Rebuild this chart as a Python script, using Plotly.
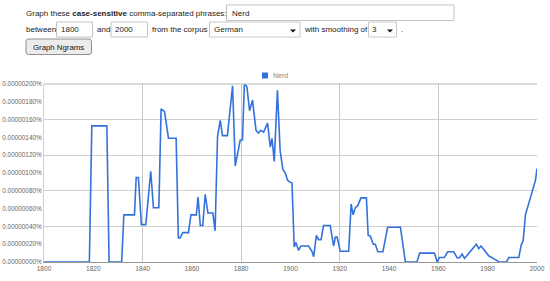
import plotly.graph_objects as go

# ---- data (frequency in units of 1e-6 percent) ----
years = [1800, 1818.4, 1819.4, 1825.5, 1826.4, 1831.5, 1832.4, 1836.7, 1837.4, 1838.3,
         1839.5, 1841.3, 1843.3, 1844.4, 1846.6, 1847.5, 1848.9, 1850.5, 1853.6, 1854.5,
         1855.2, 1856.3, 1858.6, 1859.6, 1861.8, 1862.5, 1863.4, 1864.4, 1865.4, 1866.5,
         1868.5, 1869.4, 1870.4, 1871.5, 1872.4, 1874.4, 1876.5, 1877.6, 1879.6, 1880.5,
         1881.3, 1882.3, 1883.4, 1884.6, 1886.0, 1887.0, 1888.0, 1889.1, 1890.7, 1891.8,
         1892.5, 1893.4, 1894.7, 1895.8, 1896.9, 1897.9, 1898.8, 1899.5, 1900.6, 1901.5,
         1902.2, 1903.3, 1904.2, 1907.3, 1908.7, 1909.4, 1910.5, 1911.4, 1912.4, 1913.4,
         1916.1, 1917.5, 1918.2, 1918.9, 1920.2, 1923.6, 1924.6, 1925.4, 1926.3, 1927.2,
         1928.6, 1930.8, 1931.5, 1932.4, 1933.6, 1934.4, 1935.4, 1937.5, 1939.4, 1944.6,
         1946.6, 1951.3, 1952.4, 1958.4, 1959.5, 1960.4, 1962.4, 1963.8, 1966.2, 1967.6,
         1968.6, 1969.6, 1970.6, 1974.3, 1975.4, 1976.4, 1977.3, 1980.4, 1981.8, 1983.8,
         1984.5, 1987.6, 1988.6, 1992.6, 1993.6, 1994.4, 1995.3, 1996.7, 1998.0, 1999.4,
         2000]
nerd = [0, 0, 1.53, 1.53, 0, 0, 0.53, 0.53, 0.95, 0.95,
        0.42, 0.42, 1.02, 0.61, 0.61, 1.72, 1.69, 1.39, 1.39, 0.27,
        0.27, 0.33, 0.33, 0.53, 0.53, 0.73, 0.41, 0.41, 0.76, 0.55,
        0.55, 0.35, 1.41, 1.59, 1.42, 1.42, 1.98, 1.08, 1.37, 1.37,
        2.0, 1.97, 1.70, 1.82, 1.48, 1.45, 1.48, 1.46, 1.56, 1.29,
        1.39, 1.13, 1.93, 1.25, 1.04, 1.00, 0.92, 0.90, 0.89, 0.17,
        0.22, 0.13, 0.18, 0.18, 0.12, 0.06, 0.30, 0.25, 0.25, 0.41,
        0.41, 0.18, 0.28, 0.28, 0.12, 0.12, 0.65, 0.53, 0.61, 0.63,
        0.72, 0.72, 0.30, 0.29, 0.20, 0.20, 0.116, 0.116, 0.39, 0.39,
        0, 0, 0.10, 0.10, 0, 0.05, 0.05, 0.116, 0.116, 0.048,
        0.048, 0.09, 0.04, 0.16, 0.20, 0.15, 0.18, 0.07, 0.05, 0.015,
        0, 0, 0.05, 0.05, 0.19, 0.24, 0.53, 0.66, 0.77, 0.92,
        1.05]
series_name = "Nerd"

x_tick_vals = [1800, 1820, 1840, 1860, 1880, 1900, 1920, 1940, 1960, 1980, 2000]
x_grid_vals = [1840, 1880, 1920, 1960, 2000]
y_tick_vals = [0, 0.2, 0.4, 0.6, 0.8, 1.0, 1.2, 1.4, 1.6, 1.8, 2.0]
y_tick_text = [f"{v / 1e6:.8f}%" for v in y_tick_vals]
y_grid_vals = [0.4, 0.8, 1.2, 1.6, 2.0]

# ---- layout geometry (pixels) ----
W, H = 550, 281
L, R, T, B = 44, 537, 84, 262
PW, PH = R - L, B - T


def px(x):
    return (x - L) / PW


def py(y):
    return (B - y) / PH


LINE = "#3372dc"
FONT = "Liberation Sans, Arial, sans-serif"

fig = go.Figure()
fig.add_trace(go.Scatter(x=years, y=nerd, mode="lines", name=series_name,
                         line=dict(color=LINE, width=1.6), showlegend=False,
                         hoverinfo="skip"))

fig.update_layout(
    width=W, height=H,
    margin=dict(l=L, r=W - R, t=T, b=H - B, pad=0, autoexpand=False),
    paper_bgcolor="white", plot_bgcolor="white",
    font=dict(family=FONT, color="#555", size=7),
    xaxis=dict(range=[1800, 2000], tickvals=x_tick_vals, ticktext=[str(v) for v in x_tick_vals],
               showgrid=False, zeroline=False, ticks="", showline=True, linecolor="#999",
               linewidth=1, mirror=False, tickfont=dict(size=6.6, color="#666"), automargin=False,
               minor=dict(tickvals=x_grid_vals, showgrid=True, gridcolor="#c8c8c8", gridwidth=1, ticks="")),
    yaxis=dict(range=[0, 2.0], tickvals=y_tick_vals, ticktext=y_tick_text,
               showgrid=False, zeroline=False, ticks="", showline=True, linecolor="#d0d0d0",
               linewidth=1, tickfont=dict(size=6.4, color="#666"), automargin=False,
               minor=dict(tickvals=y_grid_vals, showgrid=True, gridcolor="#cfcfcf", gridwidth=1, ticks="")),
)

shapes = []
annotations = []

# top plot border
shapes.append(dict(type="line", xref="paper", yref="paper", x0=0, x1=1, y0=1, y1=1,
                   line=dict(color="#b5b5b5", width=1)))

# legend
shapes.append(dict(type="rect", xref="paper", yref="paper", x0=px(262), x1=px(268),
                   y0=py(78.5), y1=py(72.5), fillcolor=LINE, line=dict(width=0)))
annotations.append(dict(xref="paper", yref="paper", x=px(271), y=py(75.5), text=series_name,
                        showarrow=False, xanchor="left", yanchor="middle",
                        font=dict(size=7, color="#888")))


def box(x0, y0, x1, y1, fill="white", border="#c4c4c4"):
    shapes.append(dict(type="rect", xref="paper", yref="paper", x0=px(x0), x1=px(x1),
                       y0=py(y1), y1=py(y0), fillcolor=fill, line=dict(color=border, width=1)))


def text(x, y, s, size=8.0, color="#222", anchor="left"):
    annotations.append(dict(xref="paper", yref="paper", x=px(x), y=py(y), text=s,
                            showarrow=False, xanchor=anchor, yanchor="middle",
                            font=dict(size=size, color=color, family=FONT)))


def arrow(cx, cy):
    shapes.append(dict(type="path", xref="paper", yref="paper",
                       path=f"M {px(cx-3)} {py(cy-1.5)} L {px(cx+3)} {py(cy-1.5)} L {px(cx)} {py(cy+1.5)} Z",
                       fillcolor="#111", line=dict(width=0)))


# form row 1
text(24, 13.5, "Graph these <b>case-sensitive</b> comma-separated phrases:")
box(226.5, 5, 454, 20.5)
text(230, 13, "Nerd")

# form row 2
text(24, 29.5, "between")
box(56.5, 22, 92.5, 37)
text(59, 29.5, "1800")
text(95, 29.5, "and")
box(111, 22, 147.5, 37)
text(113, 29.5, "2000")
text(150, 29.5, "from the corpus")
box(209.5, 22, 300, 37, fill="white", border="#c8c8c8")
text(212, 29.5, "German")
arrow(293, 31)
text(302, 29.5, "with smoothing of")
box(368.5, 22, 396.5, 37, fill="white", border="#c8c8c8")
text(370, 29.5, "3")
arrow(390, 31)
text(398.5, 29.5, ".")

# button
x0b, y0b, x1b, y1b, r = 26, 39, 91.5, 54.5, 2.5
path = (f"M {px(x0b+r)} {py(y0b)} L {px(x1b-r)} {py(y0b)} Q {px(x1b)} {py(y0b)} {px(x1b)} {py(y0b+r)} "
        f"L {px(x1b)} {py(y1b-r)} Q {px(x1b)} {py(y1b)} {px(x1b-r)} {py(y1b)} "
        f"L {px(x0b+r)} {py(y1b)} Q {px(x0b)} {py(y1b)} {px(x0b)} {py(y1b-r)} "
        f"L {px(x0b)} {py(y0b+r)} Q {px(x0b)} {py(y0b)} {px(x0b+r)} {py(y0b)} Z")
shapes.append(dict(type="path", xref="paper", yref="paper", path=path,
                   fillcolor="#ececec", line=dict(color="#8f8f8f", width=1)))
text((x0b + x1b) / 2, 47, "Graph Ngrams", size=7.8, anchor="center", color="#111")

fig.update_layout(shapes=shapes, annotations=annotations)
fig.write_html("out.html")
